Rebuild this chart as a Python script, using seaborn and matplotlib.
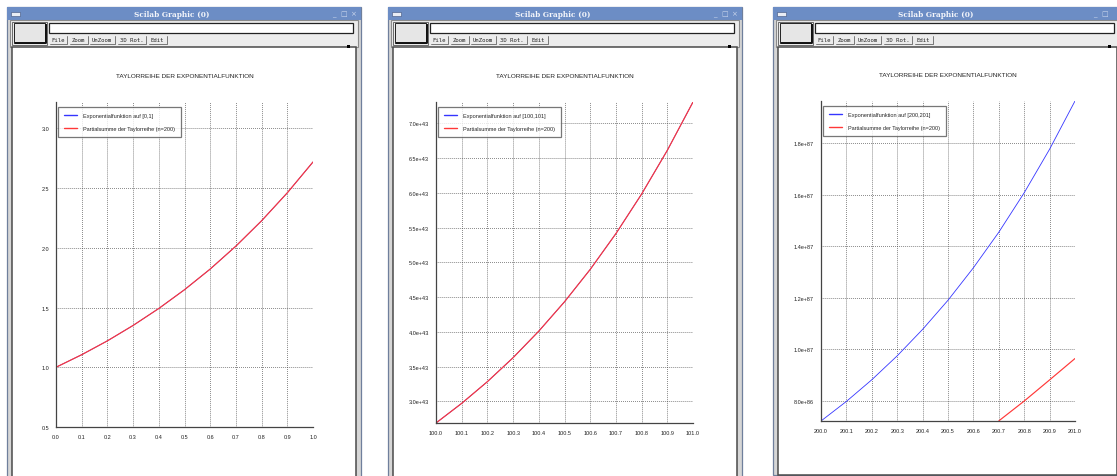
import numpy as np
import pandas as pd
import matplotlib
matplotlib.use("Agg")
import matplotlib.pyplot as plt
import seaborn as sns
from matplotlib.patches import Rectangle
from matplotlib.ticker import FixedLocator, FuncFormatter

# ---- data -------------------------------------------------------------
x_a = [0.0, 0.1, 0.2, 0.3, 0.4, 0.5, 0.6, 0.7, 0.8, 0.9, 1.0]
exp_a = [1.000, 1.105, 1.221, 1.350, 1.492, 1.649, 1.822, 2.014, 2.226, 2.460, 2.718]
taylor_a = [1.000, 1.105, 1.221, 1.350, 1.492, 1.649, 1.822, 2.014, 2.226, 2.460, 2.718]

x_b = [100.0, 100.1, 100.2, 100.3, 100.4, 100.5, 100.6, 100.7, 100.8, 100.9, 101.0]
exp_b = [2.688e43, 2.971e43, 3.283e43, 3.628e43, 4.010e43, 4.432e43,
         4.898e43, 5.413e43, 5.982e43, 6.611e43, 7.307e43]
taylor_b = [2.688e43, 2.971e43, 3.283e43, 3.628e43, 4.010e43, 4.432e43,
            4.898e43, 5.413e43, 5.982e43, 6.611e43, 7.307e43]

x_c = [200.0, 200.1, 200.2, 200.3, 200.4, 200.5, 200.6, 200.7, 200.8, 200.9, 201.0]
exp_c = [7.226e86, 7.986e86, 8.826e86, 9.754e86, 1.078e87, 1.191e87,
         1.317e87, 1.455e87, 1.608e87, 1.777e87, 1.964e87]
x_c_taylor = [200.7, 200.8, 200.9, 201.0]
taylor_c = [7.23e86, 8.00e86, 8.82e86, 9.65e86]

title = "TAYLORREIHE DER EXPONENTIALFUNKTION"
label_exp = ["Exponentialfunktion auf [0,1]",
             "Exponentialfunktion auf [100,101]",
             "Exponentialfunktion auf [200,201]"]
label_taylor = "Partialsumme der Taylorreihe (n=200)"

BLUE = "#3535ff"
RED = "#ff3838"

# ---- style ------------------------------------------------------------
sns.set_style("white")
plt.rcParams["font.family"] = ["Liberation Sans", "DejaVu Sans"]

W, H = 1117, 477
fig = plt.figure(figsize=(W / 100, H / 100), dpi=100)
fig.patch.set_facecolor("white")

# background layer in pixel coordinates for the window frames
bg = fig.add_axes([0, 0, 1, 1], zorder=0)
bg.set_xlim(0, W)
bg.set_ylim(H, 0)
bg.axis("off")


def window(x0, x1, y_bot):
    bg.add_patch(Rectangle((x0, 8), x1 - x0, y_bot - 8, fc="#d6d6d6", ec="#6f7f9c", lw=0.9))
    bg.add_patch(Rectangle((x0, 8), x1 - x0, 13, fc="#6c8dc5", ec="none"))
    bg.text((x0 + x1) / 2 - 12, 14.8, "Scilab Graphic (0)", color="#f4f6fb", fontsize=5.3,
            fontweight="bold", ha="center", va="center", family="DejaVu Serif")
    bg.add_patch(Rectangle((x0 + 4, 12.5), 9, 4.5, fc="#e9edf5", ec="#3b4f7a", lw=0.4))
    for dx, sym in [(-27, "_"), (-17, "\u25a1"), (-8, "\u00d7")]:
        if x1 + dx < W - 4:
            bg.text(x1 + dx, 14.5, sym, color="#c9d5ec", fontsize=5, ha="center",
                    va="center", family="DejaVu Sans")
    # toolbar
    bg.add_patch(Rectangle((x0 + 3, 21), x1 - x0 - 6, 27, fc="#ececec", ec="#8a8a8a", lw=0.8))
    bg.add_patch(Rectangle((x0 + 5, 22.5), 35, 23, fc="none", ec="#555555", lw=0.6))
    bg.add_patch(Rectangle((x0 + 7, 24), 31, 19.5, fc="#e6e6e6", ec="#222222", lw=0.7))
    bg.plot([x0 + 8, x0 + 38.5, x0 + 38.5], [44, 44, 24.5], color="#111111", lw=1.4,
            solid_capstyle="butt")
    bg.add_patch(Rectangle((x0 + 42, 24), x1 - x0 - 50, 10, fc="white", ec="#222222", lw=0.9))
    for lab, a, b in [("File", 43, 60), ("Zoom", 63, 81), ("UnZoom", 83, 108),
                      ("3D Rot.", 111, 139), ("Edit", 142, 160)]:
        bg.text(x0 + a + 1.5, 40.8, lab, fontsize=4.1, family="DejaVu Sans Mono",
                va="center", ha="left", color="#222222")
        bg.plot([x0 + b, x0 + b, x0 + a], [36.5, 45, 45], color="#666666", lw=0.6)
    # drawing area
    bg.add_patch(Rectangle((x0 + 5, 48), x1 - x0 - 10, y_bot - 48, fc="white",
                           ec="#4a4a4a", lw=1.1))
    bg.add_patch(Rectangle((x1 - 14, 45.5), 3, 3, fc="black", ec="none"))


window(7, 361, 495)
window(388, 742, 495)
window(773, 1122, 476)


def panel(rect, xs, ys_exp, xs_t, ys_t, lab_exp, xlim, ylim, yticks, yminor, xfmt, yfmt):
    left, right, top, bottom = rect
    ax = fig.add_axes([left / W, (H - bottom) / H, (right - left) / W, (bottom - top) / H],
                      zorder=2)
    ax.set_facecolor("none")
    df_exp = pd.DataFrame({"x": xs, "y": ys_exp})
    df_t = pd.DataFrame({"x": xs_t, "y": ys_t})
    sns.lineplot(data=df_exp, x="x", y="y", ax=ax, color=BLUE, lw=0.6,
                 label=lab_exp, sort=False)
    sns.lineplot(data=df_t, x="x", y="y", ax=ax, color=RED, lw=0.85,
                 label=label_taylor, sort=False)
    ax.set_xlim(*xlim)
    ax.set_ylim(*ylim)
    xt = np.linspace(xlim[0], xlim[1], 11)
    ax.xaxis.set_major_locator(FixedLocator(xt))
    ax.xaxis.set_minor_locator(FixedLocator((xt[:-1] + xt[1:]) / 2))
    ax.yaxis.set_major_locator(FixedLocator(yticks))
    ax.yaxis.set_minor_locator(FixedLocator(yminor))
    ax.xaxis.set_major_formatter(FuncFormatter(xfmt))
    ax.yaxis.set_major_formatter(FuncFormatter(yfmt))
    ax.tick_params(which="major", direction="out", length=3.5, width=0.7, color="#444444",
                   labelsize=4.0, pad=1.5, labelcolor="#222222")
    ax.tick_params(which="minor", direction="out", length=2, width=0.6, color="#444444")
    ax.grid(True, which="major", color="#444444", lw=0.55, ls=(0, (1, 1.6)))
    for s in ["top", "right"]:
        ax.spines[s].set_visible(False)
    for s in ["left", "bottom"]:
        ax.spines[s].set_color("#444444")
        ax.spines[s].set_linewidth(0.9)
    ax.set_xlabel("")
    ax.set_ylabel("")
    ax.set_title(title, fontsize=4.6, pad=18, color="#222222")
    leg = ax.legend(loc="upper left", bbox_to_anchor=(0.006, 0.985), borderaxespad=0,
                    fontsize=4.0, frameon=True, fancybox=False, borderpad=1.1,
                    labelspacing=1.5, handlelength=2.4, handletextpad=1.0)
    for line, col in zip(leg.get_lines(), [BLUE, RED]):
        line.set_color(col)
        line.set_linewidth(1.0)
    leg.get_frame().set_edgecolor("#555555")
    leg.get_frame().set_linewidth(0.9)
    leg.get_frame().set_facecolor("white")
    return ax


fmt1 = lambda v, p: f"{v:.1f}"
fmte = lambda v, p: f"{v:.1e}"

yt1 = [0.5, 1.0, 1.5, 2.0, 2.5, 3.0]
ym1 = [v + d for v in yt1 for d in (1 / 6, 2 / 6)]
panel((56, 313, 103, 428), x_a, exp_a, x_a, taylor_a, label_exp[0],
      (0.0, 1.0), (0.5, 3.22), yt1, ym1, fmt1, fmt1)

yt2 = [3.0e43, 3.5e43, 4.0e43, 4.5e43, 5.0e43, 5.5e43, 6.0e43, 6.5e43, 7.0e43]
ym2 = [v + 0.25e43 for v in yt2] + [2.75e43]
panel((436, 693, 103, 424), x_b, exp_b, x_b, taylor_b, label_exp[1],
      (100.0, 101.0), (2.688e43, 7.307e43), yt2, ym2, fmt1, fmte)

yt3 = [8.0e86, 1.0e87, 1.2e87, 1.4e87, 1.6e87, 1.8e87]
ym3 = [v + d for v in yt3 for d in (0.2e87 / 3, 0.4e87 / 3)]
panel((821, 1075, 102, 422), x_c, exp_c, x_c_taylor, taylor_c, label_exp[2],
      (200.0, 201.0), (7.226e86, 1.964e87), yt3, ym3, fmt1, fmte)

fig.savefig("out.png", dpi=100, facecolor="white")
